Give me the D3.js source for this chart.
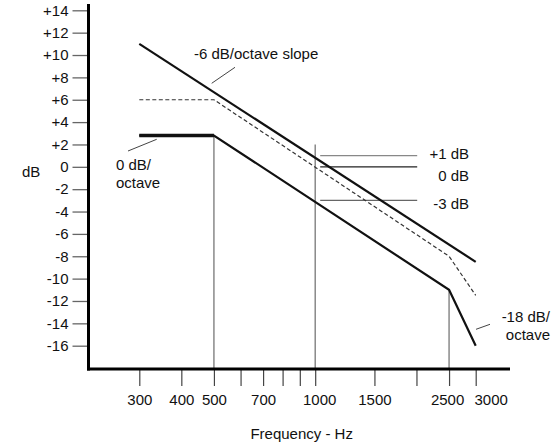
<!DOCTYPE html>
<html>
<head>
<meta charset="utf-8">
<script src="https://cdn.jsdelivr.net/npm/d3@7"></script>
<style>
  body { margin: 0; background: #fff; }
  text { font-family: Arial, "Liberation Sans", sans-serif; fill: #111; }
</style>
</head>
<body>
<div id="chart"></div>
<script>
// frequency axis
var freqTicks = [300, 400, 500, 600, 700, 800, 900, 1000, 1500, 2000, 2500, 3000];
var freqLabels = [300, 400, 500, 700, 1000, 1500, 2500, 3000];
// dB axis
var dbTicks = [14, 12, 10, 8, 6, 4, 2, 0, -2, -4, -6, -8, -10, -12, -14, -16];

// curves (frequency in Hz, level in dB)
var slopeFreq = [300, 3000];
var slopeDb = [11.0, -8.5];
var dashFreq = [300, 500, 2500, 3000];
var dashDb = [6, 6, -8, -11.5];
var filterFreq = [300, 500, 2500, 3000];
var filterDb = [2.8, 2.8, -11, -16];

// reference levels at 1000 Hz
var refLevels = [1, 0, -3];
var refLabels = ["+1 dB", "0 dB", "-3 dB"];
var refColors = ["#888", "#222", "#666"];

// vertical markers
var markerFreq = [500, 1000, 2500];
var markerTop = [2.8, 2, -11];

var svgWidth = 553;
var svgHeight = 446;

var svg = d3.select("#chart")
    .append("svg")
    .attr("width", svgWidth)
    .attr("height", svgHeight);

var x = d3.scaleLog()
    .domain([300, 3000])
    .range([139.3, 475.7]);

var y = d3.scaleLinear()
    .domain([-16, 14])
    .range([345.7, 10.3]);

var axisY = 369;
var axisX = 88.5;

// y axis ticks
var leftAxis = d3.axisLeft(y)
    .tickValues(dbTicks)
    .tickSize(16)
    .tickPadding(4)
    .tickFormat(d => d > 0 ? "+" + d : String(d));

var yAxis = svg.append("g")
    .attr("transform", `translate(${axisX}, 0)`)
    .call(leftAxis);
yAxis.select(".domain").remove();
yAxis.selectAll("line").attr("stroke", "#666").attr("stroke-width", 1.3);
yAxis.selectAll("text")
    .attr("font-size", 15)
    .attr("fill", "#111")
    .style("font-family", "Arial, 'Liberation Sans', sans-serif");

// x axis ticks
var bottomAxis = d3.axisBottom(x)
    .tickValues(freqTicks)
    .tickSize(17)
    .tickPadding(8)
    .tickFormat(d => freqLabels.indexOf(d) >= 0 ? String(d) : "");

var xAxis = svg.append("g")
    .attr("transform", `translate(0, ${axisY})`)
    .call(bottomAxis);
xAxis.select(".domain").remove();
xAxis.selectAll("line").attr("stroke", "#444").attr("stroke-width", 1.2);

// the original nudges a few labels to keep them apart
var labelShift = { 1000: 4, 2500: -2, 3000: 15 };
xAxis.selectAll("text")
    .attr("font-size", 15)
    .attr("fill", "#111")
    .attr("dx", d => labelShift[d] || 0)
    .style("font-family", "Arial, 'Liberation Sans', sans-serif");

// vertical marker lines
svg.selectAll(".marker")
    .data(markerFreq)
    .enter()
    .append("line")
    .attr("x1", d => x(d))
    .attr("x2", d => x(d))
    .attr("y1", (d, i) => y(markerTop[i]))
    .attr("y2", axisY)
    .attr("stroke", "#777")
    .attr("stroke-width", 1.3);

// reference lines at 1000 Hz
var refX1 = x(1000) + 5;
var refX2 = x(1000) + 102;
svg.selectAll(".ref")
    .data(refLevels)
    .enter()
    .append("line")
    .attr("x1", refX1)
    .attr("x2", refX2)
    .attr("y1", d => y(d))
    .attr("y2", d => y(d))
    .attr("stroke", (d, i) => refColors[i])
    .attr("stroke-width", 1.2);

svg.selectAll(".refLabel")
    .data(refLevels)
    .enter()
    .append("text")
    .attr("x", 469)
    .attr("y", (d, i) => [159, 181, 209][i])
    .attr("text-anchor", "end")
    .attr("font-size", 15)
    .text((d, i) => refLabels[i]);

var line = d3.line()
    .x(d => x(d[0]))
    .y(d => y(d[1]));

// -6 dB/octave slope
svg.append("path")
    .datum(d3.zip(slopeFreq, slopeDb))
    .attr("d", line)
    .attr("fill", "none")
    .attr("stroke", "#111")
    .attr("stroke-width", 2.2);

// dashed curve
svg.append("path")
    .datum(d3.zip(dashFreq, dashDb))
    .attr("d", line)
    .attr("fill", "none")
    .attr("stroke", "#333")
    .attr("stroke-width", 1.2)
    .attr("stroke-dasharray", "4,2.5");

// filter response
svg.append("path")
    .datum(d3.zip(filterFreq, filterDb))
    .attr("d", line)
    .attr("fill", "none")
    .attr("stroke", "#111")
    .attr("stroke-width", 2.2);

// thick flat part
svg.append("path")
    .datum(d3.zip(filterFreq.slice(0, 2), filterDb.slice(0, 2)))
    .attr("d", line)
    .attr("fill", "none")
    .attr("stroke", "#111")
    .attr("stroke-width", 3.4);

// axis lines
svg.append("line")
    .attr("x1", axisX).attr("x2", axisX)
    .attr("y1", 4).attr("y2", axisY + 1.5)
    .attr("stroke", "#000").attr("stroke-width", 3);
svg.append("line")
    .attr("x1", axisX - 1.5).attr("x2", 510)
    .attr("y1", axisY).attr("y2", axisY)
    .attr("stroke", "#000").attr("stroke-width", 3);

// annotations
svg.append("text")
    .attr("x", 194).attr("y", 59)
    .attr("font-size", 15)
    .text("-6 dB/octave slope");
svg.append("line")
    .attr("x1", 235).attr("y1", 67.3)
    .attr("x2", 211.7).attr("y2", 83.3)
    .attr("stroke", "#444").attr("stroke-width", 1);

svg.append("text")
    .attr("x", 116).attr("y", 170)
    .attr("font-size", 15)
    .text("0 dB/");
svg.append("text")
    .attr("x", 116).attr("y", 188)
    .attr("font-size", 15)
    .text("octave");
svg.append("line")
    .attr("x1", 128).attr("y1", 151)
    .attr("x2", 156.7).attr("y2", 139.3)
    .attr("stroke", "#444").attr("stroke-width", 1);

svg.append("text")
    .attr("x", 550).attr("y", 322)
    .attr("text-anchor", "end")
    .attr("font-size", 15)
    .text("-18 dB/");
svg.append("text")
    .attr("x", 550).attr("y", 340)
    .attr("text-anchor", "end")
    .attr("font-size", 15)
    .text("octave");
svg.append("line")
    .attr("x1", 476).attr("y1", 329.3)
    .attr("x2", 490).attr("y2", 324.3)
    .attr("stroke", "#444").attr("stroke-width", 1);

// axis titles
svg.append("text")
    .attr("x", 22).attr("y", 177)
    .attr("font-size", 15)
    .text("dB");
svg.append("text")
    .attr("x", 301.7).attr("y", 439)
    .attr("text-anchor", "middle")
    .attr("font-size", 15)
    .text("Frequency - Hz");
</script>
</body>
</html>
